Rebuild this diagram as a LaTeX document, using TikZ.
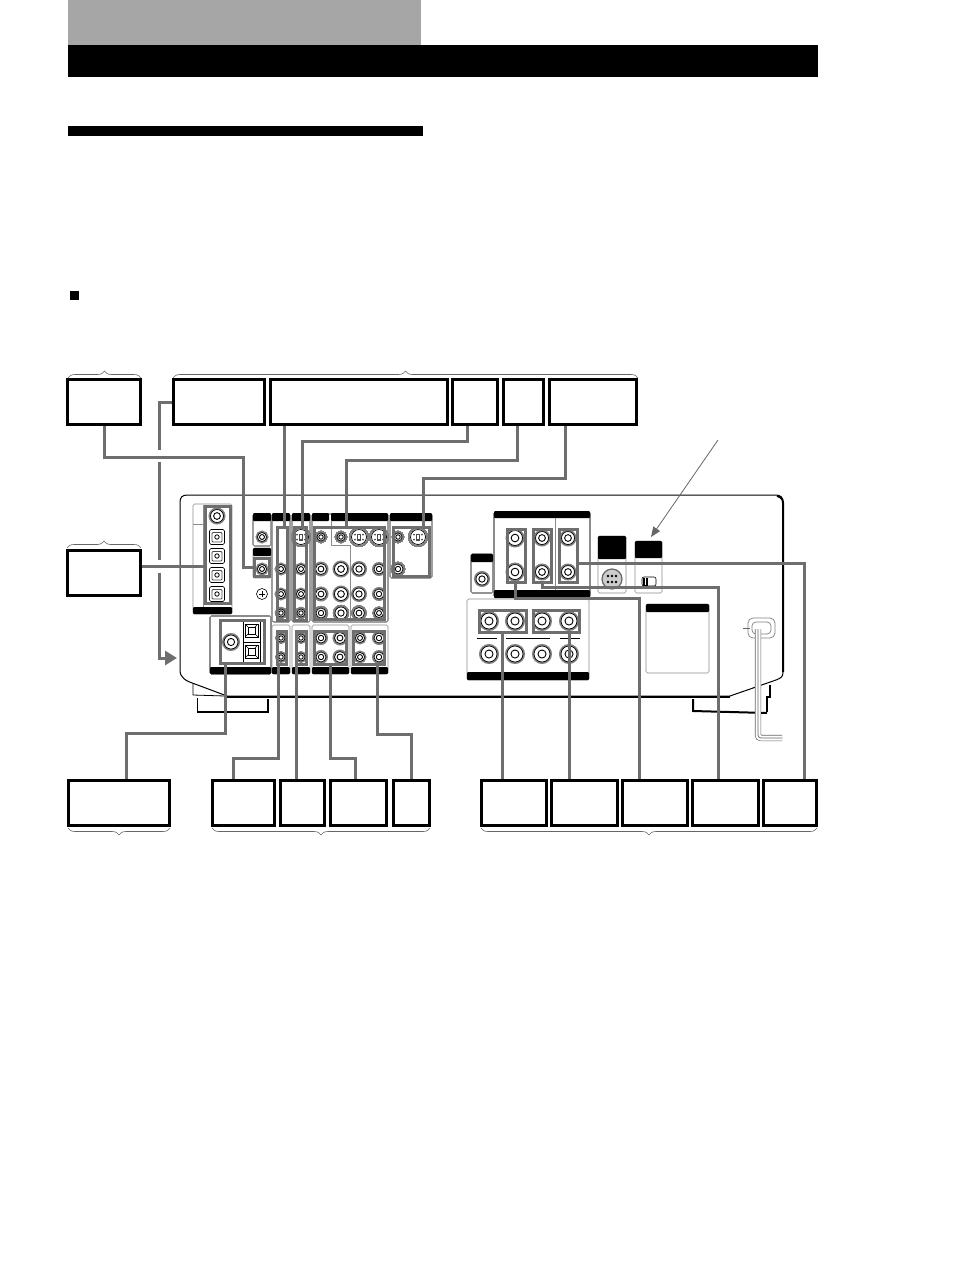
\documentclass[tikz,border=0pt]{standalone}
\usepackage{amsmath}
\usetikzlibrary{positioning}
\usetikzlibrary{arrows.meta}
\usetikzlibrary{decorations.pathreplacing}
\definecolor{wiregray}{HTML}{6E6E6E}
\tikzset{
 unitbox/.style={draw=black,line width=3pt,fill=white,inner sep=0pt},
 jackframe/.style={draw=wiregray,line width=3pt,inner sep=0pt},
 wire/.style={draw=wiregray,line width=3pt},
 panel/.style={draw=black!45,line width=0.6pt,rounded corners=1.5pt},
 hubrace/.style={draw=black!60,line width=0.6pt,decorate,decoration={brace,amplitude=7pt}},
 jackring/.style={draw=black,line width=0.7pt,fill=white}
}
\newcommand{\rcajack}[3]{
 \draw[black!50,line width=2pt,fill=white] (#1,#2) circle (#3pt);
 \draw[jackring] (#1,#2) circle (#3pt-1pt);
 \draw[jackring,line width=0.9pt] (#1,#2) circle (#3pt*0.45);
}
\newcommand{\svideo}[2]{
 \draw[black!50,line width=1.6pt,fill=white] (#1,#2) circle (9pt);
 \draw[jackring] (#1,#2) circle (7.5pt);
 \fill[black!70] (#1-2.2,#2-3.5) rectangle (#1+2.2,#2+3.5);
 \fill[white] (#1-1,#2-2) rectangle (#1+1,#2+2);
 \foreach \dx in {-4,4} \foreach \dy in {-2.5,2.5} \fill[black!70] (#1+\dx,#2+\dy) circle (1pt);
}
\newcommand{\optjack}[2]{
 \draw[black,line width=0.6pt,rounded corners=1.5pt,fill=white] (#1-7.5,#2-7.5) rectangle (#1+7.5,#2+7.5);
 \draw[black!70,line width=0.8pt,rounded corners=1pt] (#1-5,#2-4.5) rectangle (#1+5,#2+5);
 \draw[black,line width=0.8pt] (#1,#2) circle (2.2pt);
}
\begin{document}
\begin{tikzpicture}[x=1pt,y=-1pt]
 \useasboundingbox (0,0) rectangle (954,1272);
 % page headings
 \fill[black!35] (68,0) rectangle (421,45);
 \fill[black] (68,45) rectangle (818,77);
 \fill[black] (68,126) rectangle (423,136);
 \fill[black] (70,291) rectangle (79,300);
 % feet of the unit
 \draw[line width=0.8pt] (193,683)--(193,695)--(225,696);
 \draw[line width=0.8pt] (197,698)--(197,711);
 \draw[line width=2.5pt] (197,712)--(268,712);
 \draw[line width=2pt] (268,699)--(268,713);
 \draw[line width=2pt] (693,699)--(693,711)--(767,713);
 \draw[line width=1.5pt] (767,712)--(767,697)--(770,697)--(770,685);
 % body of the unit
 \draw[black,line width=1pt,fill=white] (227,696)--(195,684) .. controls (186,681) and (180,678) .. (180,670)--(180,503) .. controls (180,497) and (182,495) .. (188,495)--(775,495) .. controls (781,495) and (783,497) .. (783,503)--(783,672) .. controls (783,677) and (781,678) .. (776,680)--(730,696)--cycle;
 \draw[black,line width=2pt] (227,697)--(730,697);
 \draw[black,line width=2pt] (777,496) .. controls (781,497) and (783,499) .. (783,503)--(783,672);
 % digital in panel
 \draw[panel] (193,504) rectangle (232,614);
 \fill[black,rounded corners=1pt] (193,607) rectangle (232,614);
 \draw[black!45,line width=0.6pt] (203,505)--(203,607);
 \draw[black!45,line width=0.6pt] (193,524)--(204,524);
 \rcajack{217}{516}{7.5}
 \foreach \jy in {537,556,575,594} \optjack{217}{\jy}
 % video panels, upper row
 \foreach \px/\pw/\pb in {253/18/546,272/18/622,292/18/622,312/76/622,390/42/578}
  \draw[panel] (\px,514) rectangle (\px+\pw,\pb);
 \foreach \px/\pw in {253/18,272/18,292/18,312/17,331/57,390/42}
  \fill[black,rounded corners=1pt] (\px,513) rectangle (\px+\pw,521);
 \draw[black!45,line width=0.6pt] (331,521)--(331,545)--(350,545)--(350,622);
 \draw[panel] (253,548) rectangle (271,578);
 \fill[black,rounded corners=1pt] (253,548) rectangle (271,556);
 \rcajack{262}{537}{5.5}
 \rcajack{262}{569}{5.5}
 \draw[black,line width=0.6pt] (262,594) circle (5.5pt);
 \draw[black,line width=0.6pt] (259,594)--(265,594) (262,591)--(262,597);
 \foreach \jx/\jr in {281/5.5,301/5.5,321/6.5,341/7.5,359/7,379/6}
  \foreach \jy in {569,594}
   \rcajack{\jx}{\jy}{\jr}
 \foreach \jx/\jr in {281/5,301/5,321/6,341/7,359/6.5,379/5.5}
  \rcajack{\jx}{613}{\jr}
 \svideo{301}{537}
 \rcajack{321}{537}{5}
 \rcajack{341}{537}{5}
 \svideo{359}{537}
 \svideo{379}{537}
 \rcajack{398}{537}{5}
 \svideo{418}{537}
 \rcajack{398}{569}{6}
 % speaker and audio panels, lower row
 \draw[panel] (210,616) rectangle (271,674);
 \foreach \px/\pw in {272/18,292/18,312/37,351/37}
  \draw[panel] (\px,625) rectangle (\px+\pw,674);
 \foreach \px/\pw in {210/61,272/18,292/18,312/37,351/37}
  \fill[black,rounded corners=1pt] (\px,667) rectangle (\px+\pw,674);
 \rcajack{231}{642}{8}
 \draw[black,line width=0.6pt] (243,620) rectangle (260,642);
 \draw[black,line width=0.6pt] (243,642) rectangle (260,663);
 \foreach \ty in {631,652} {
  \draw[black,line width=0.5pt] (245,\ty-7) rectangle (258,\ty+6);
  \draw[black,line width=0.5pt] (245,\ty-7)--(258,\ty+6) (258,\ty-7)--(245,\ty+6);
  \draw[black,line width=0.5pt,fill=white] (248,\ty-4) rectangle (255,\ty+3);
 }
 \foreach \jx/\jr in {281/5,301/5,321/6,340/6.5,360/5.5,379/6}
  \foreach \jy in {638,657}
   \rcajack{\jx}{\jy}{\jr}
 % surround panel
 \draw[panel] (494,512) rectangle (590,597);
 \fill[black,rounded corners=1pt] (494,511) rectangle (590,518);
 \fill[black,rounded corners=1pt] (494,590) rectangle (590,598);
 \draw[black!45,line width=0.6pt] (555,518)--(555,590);
 \foreach \jx/\jr in {515/8.5,542/7.5,568/7.5}
  \foreach \jy in {538,572}
   \rcajack{\jx}{\jy}{\jr}
 % sub woofer, control and switch panels
 \draw[panel] (471,554) rectangle (493,593);
 \fill[black,rounded corners=1pt] (471,554) rectangle (493,562);
 \rcajack{482}{579}{7}
 \draw[panel] (598,536) rectangle (626,593);
 \fill[black,rounded corners=1pt] (598,536) rectangle (626,559);
 \draw[black!60,line width=1.2pt,fill=black!20] (612,579) circle (10pt);
 \foreach \dx in {-4,0,4} \foreach \dy in {-3,3} \fill[black] (612+\dx,579+\dy) circle (1.3pt);
 \draw[panel] (635,541) rectangle (662,593);
 \fill[black,rounded corners=1pt] (635,541) rectangle (662,558);
 \draw[black,line width=0.6pt,rounded corners=2pt] (642,577) rectangle (656,586);
 \fill[black] (643,577.5) rectangle (648,585.5);
 \fill[white] (644.5,578) rectangle (646,585);
 % plain label area
 \draw[panel] (646,604) rectangle (709,673);
 \fill[black,rounded corners=1pt] (646,604) rectangle (709,612);
 % speaker out panel
 \draw[panel] (467,599) rectangle (589,680);
 \fill[black,rounded corners=1pt] (467,672) rectangle (589,680);
 \foreach \jx in {489,515,542,569}
  \foreach \jy in {621,654}
   \rcajack{\jx}{\jy}{9}
 \draw[black,line width=0.7pt] (477,638)--(497,638) (506,638)--(550,638) (560,638)--(580,638);
 % power cord
 \draw[black!50,line width=0.7pt,rounded corners=5pt] (748,618) rectangle (775,638);
 \draw[black!50,line width=0.7pt,rounded corners=4pt] (752,622) rectangle (771,634);
 \draw[black!60,line width=0.6pt] (743,628)--(750,628);
 \draw[black!60,line width=6.4pt,rounded corners=3pt] (758,629)--(758,738)--(782,738);
 \draw[white,line width=5pt,rounded corners=3pt] (758,629)--(758,738)--(782,738);
 \draw[black!60,line width=0.7pt,rounded corners=3pt] (758,629)--(758,738)--(782,738);
 % frames round the terminals
 \node[jackframe,minimum width=25pt,minimum height=97pt] (digiframe) at (218,555) {};
 \node[jackframe,minimum width=15pt,minimum height=18pt] (lineframe) at (262,567.5) {};
 \node[jackframe,minimum width=10pt,minimum height=93pt] (videoframe) at (282,573.5) {};
 \node[jackframe,minimum width=12pt,minimum height=93pt] (tapeframe) at (300.5,573.5) {};
 \node[jackframe,minimum width=70pt,minimum height=92pt] (vcrframe) at (349,573) {};
 \node[jackframe,minimum width=36pt,minimum height=49pt] (dvdframe) at (411,551.5) {};
 \node[jackframe,minimum width=44pt,minimum height=43pt] (antframe) at (242,641.5) {};
 \node[jackframe,minimum width=9pt,minimum height=33pt] (cdframe) at (281.5,647.5) {};
 \node[jackframe,minimum width=10pt,minimum height=33pt] (mdframe) at (301,647.5) {};
 \node[jackframe,minimum width=32pt,minimum height=33pt] (phonoframe) at (330,647.5) {};
 \node[jackframe,minimum width=31pt,minimum height=33pt] (recframe) at (368.5,647.5) {};
 \node[jackframe,minimum width=18pt,minimum height=53pt] (frontframe) at (516,555.5) {};
 \node[jackframe,minimum width=18pt,minimum height=53pt] (rearframe) at (542,555.5) {};
 \node[jackframe,minimum width=18pt,minimum height=53pt] (centerframe) at (568,555.5) {};
 \node[jackframe,minimum width=47pt,minimum height=22pt] (leftframe) at (502.5,621) {};
 \node[jackframe,minimum width=46pt,minimum height=22pt] (rightframe) at (556,621) {};
 % boxes above the unit
 \node[unitbox,minimum width=73pt,minimum height=45pt] (topa) at (104,402) {};
 \node[unitbox,minimum width=91pt,minimum height=45pt] (topb) at (219,402) {};
 \node[unitbox,minimum width=177pt,minimum height=45pt] (topc) at (359,402) {};
 \node[unitbox,minimum width=45pt,minimum height=45pt] (topd) at (475,402) {};
 \node[unitbox,minimum width=40pt,minimum height=45pt] (tope) at (523.5,402) {};
 \node[unitbox,minimum width=87pt,minimum height=45pt] (topf) at (593,402) {};
 \node[unitbox,minimum width=73pt,minimum height=45pt] (sidea) at (104,573) {};
 % boxes below the unit
 \node[unitbox,minimum width=101pt,minimum height=45pt] (lowa) at (119,803) {};
 \node[unitbox,minimum width=62pt,minimum height=45pt] (lowb) at (243,803) {};
 \node[unitbox,minimum width=44pt,minimum height=45pt] (lowc) at (302,803) {};
 \node[unitbox,minimum width=56pt,minimum height=45pt] (lowd) at (358,803) {};
 \node[unitbox,minimum width=36pt,minimum height=45pt] (lowe) at (411,803) {};
 \node[unitbox,minimum width=65pt,minimum height=45pt] (lowf) at (513.5,803) {};
 \node[unitbox,minimum width=66pt,minimum height=45pt] (lowg) at (584,803) {};
 \node[unitbox,minimum width=65pt,minimum height=45pt] (lowh) at (654.5,803) {};
 \node[unitbox,minimum width=66pt,minimum height=45pt] (lowi) at (725,803) {};
 \node[unitbox,minimum width=53pt,minimum height=45pt] (lowj) at (789.5,803) {};
 % braces
 \draw[hubrace] (68,378)--(141,378);
 \draw[hubrace] (173,378)--(638,378);
 \draw[hubrace] (67,548)--(141,548);
 \draw[hubrace] (170,828)--(68,828);
 \draw[hubrace] (430,828)--(212,828);
 \draw[hubrace] (817,828)--(481,828);
 % free ends of the connectors
 \coordinate (arrowend) at (177,658);
 \coordinate (videotop) at (284,526);
 \coordinate (tapetop) at (302,526);
 \coordinate (vcrtop) at (346,526);
 \coordinate (dvdtop) at (423,526);
 \coordinate (antlow) at (225,664);
 \coordinate (cdlow) at (278,665);
 \coordinate (mdlow) at (296,665);
 \coordinate (recbot) at (377.5,665);
 \coordinate (leftlow) at (502.5,633);
 \coordinate (rightlow) at (569,633);
 \coordinate (frontlow) at (515,583);
 \coordinate (rearlow) at (542,583);
 \coordinate (centerside) at (578,563);
 \coordinate (noticetip) at (651,537);
 \coordinate (noticeend) at (718,440);
 % connectors
 \draw[wire,-{Triangle[length=12pt,width=14pt]}] (topb.west) -| ++(-12.5,0) |- (arrowend);
 \fill[white] (156,450) rectangle (164,462);
 \fill[white] (156,560) rectangle (164,573);
 \draw[wire] (topa.south) |- (243,457.5) |- (lineframe.west);
 \draw[wire] (sidea.east |- 0,566) -- (digiframe.west |- 0,566);
 \draw[wire] (topc.south -| videotop) -- (videotop);
 \draw[wire] (topd.south -| 467,0) |- (302,441.5) -- (tapetop);
 \draw[wire] (tope.south -| 517,0) |- (346,460) -- (vcrtop);
 \draw[wire] (topf.south -| 565,0) |- (423,478) -- (dvdtop);
 \draw[wire] (lowa.north -| 126,0) |- (225,733) -- (antlow);
 \draw[wire] (lowb.north -| 233,0) |- (278,758) -- (cdlow);
 \draw[wire] (lowc.north -| mdlow) -- (mdlow);
 \draw[wire] (lowd.north -| 355,0) |- (330,758) -- (phonoframe.south);
 \draw[wire] (lowe.north) |- (377.5,734) -- (recbot);
 \draw[wire] (lowf.north -| leftlow) -- (leftlow);
 \draw[wire] (lowg.north -| rightlow) -- (rightlow);
 \draw[wire] (lowh.north -| 639,0) |- (515,598) -- (frontlow);
 \draw[wire] (lowi.north -| 718.5,0) |- (542,587) -- (rearlow);
 \draw[wire] (lowj.north -| 804,0) |- (centerside);
 \draw[draw=black!60,line width=0.8pt,-{Triangle[length=10pt,width=8pt]}] (noticeend) -- (noticetip);
\end{tikzpicture}
\end{document}
